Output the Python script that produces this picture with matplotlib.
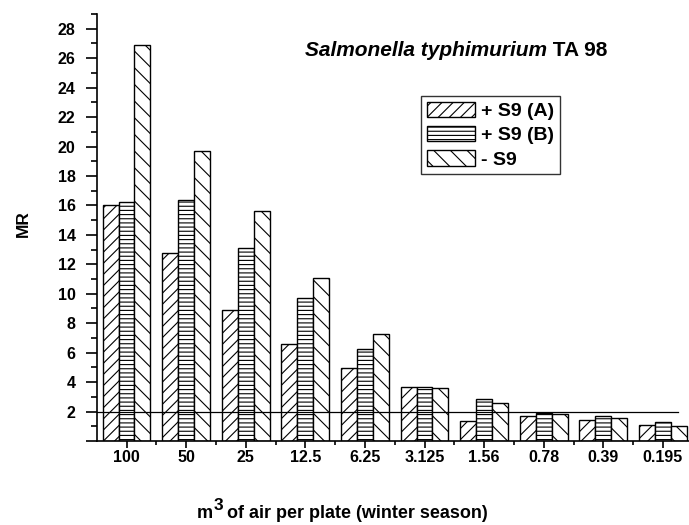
import matplotlib
matplotlib.use("Agg")
import matplotlib.pyplot as plt
from matplotlib.ticker import MultipleLocator
import numpy as np

# --- datos ---
categorias = ["100", "50", "25", "12.5", "6.25", "3.125", "1.56", "0.78", "0.39", "0.195"]
s9_a = [16.0, 12.8, 8.9, 6.6, 4.95, 3.65, 1.38, 1.72, 1.43, 1.11]
s9_b = [16.2, 16.35, 13.1, 9.7, 6.25, 3.68, 2.83, 1.88, 1.68, 1.29]
menos_s9 = [26.9, 19.7, 15.65, 11.05, 7.25, 3.6, 2.56, 1.81, 1.59, 1.02]
etiquetas = ["+ S9 (A)", "+ S9 (B)", "- S9"]
limite_mr = 2

plt.rcParams["font.family"] = ["Liberation Sans", "DejaVu Sans"]
plt.rcParams["font.weight"] = "bold"
plt.rcParams["hatch.linewidth"] = 0.8

fig = plt.figure(figsize=(6.89, 5.25), dpi=100)
ax = fig.add_axes([96.7 / 689, 1 - 441 / 525, 596 / 689, 427 / 525])

x = np.arange(len(categorias))
w = 0.268
series = [s9_a, s9_b, menos_s9]
tramas = ["///", "----", "\\\\"]
for i, (vals, trama, lab) in enumerate(zip(series, tramas, etiquetas)):
    ax.bar(x + (i - 1) * w, vals, w, facecolor="white", edgecolor="black",
           hatch=trama, linewidth=1.0, label=lab, zorder=2)

# línea de referencia MR = 2
ax.axhline(limite_mr, xmin=0, xmax=0.975, color="black", linewidth=0.9, zorder=3)

# ejes
ax.set_xlim(-0.5, len(categorias) - 0.5)
ax.set_ylim(0, 29)
ax.set_xticks(x)
ax.set_xticklabels(categorias)
ax.set_xticks(x[:-1] + 0.5, minor=True)
ax.yaxis.set_minor_locator(MultipleLocator(1))
ax.set_yticks(np.arange(0, 29, 2))
ax.set_yticklabels([""] + [str(v) for v in range(2, 29, 2)])

for s in ["top", "right"]:
    ax.spines[s].set_visible(False)
for s in ["left", "bottom"]:
    ax.spines[s].set_linewidth(1.2)

ax.tick_params(axis="y", which="major", direction="out", length=7.7, width=1.2,
               pad=7.5, labelsize=11.5)
ax.tick_params(axis="y", which="minor", direction="out", length=4, width=1.2)
ax.tick_params(axis="x", which="major", direction="out", length=5, width=1.2,
               pad=1.5, labelsize=11.5)
ax.tick_params(axis="x", which="minor", direction="out", length=3, width=1.2)

# leyenda
leg = fig.legend(loc="upper left", bbox_to_anchor=(421 / 689, 1 - 95.7 / 525),
                 borderaxespad=0, fancybox=False, frameon=True, fontsize=14,
                 handlelength=2.5, handleheight=0.85, handletextpad=0.3,
                 labelspacing=0.3, borderpad=0.3)
leg.get_frame().set_edgecolor("black")
leg.get_frame().set_linewidth(1.0)

# título
t1 = fig.text(305 / 689, 1 - 56 / 525, "Salmonella typhimurium", fontsize=15,
              style="italic", fontweight="bold", va="baseline")
ax.annotate(" TA 98", xy=(1, 0), xycoords=t1, va="bottom", ha="left",
            fontsize=15, fontweight="bold")

# etiquetas de ejes
fig.text(23 / 689, 1 - 224 / 525, "MR", rotation=90, fontsize=12.5,
         fontweight="bold", ha="center", va="center")
tm = fig.text(197 / 689, 1 - 518.5 / 525, "m", fontsize=13, fontweight="bold",
              va="baseline")
ax.annotate("3", xy=(1, 0), xycoords=tm, xytext=(0.5, 7), textcoords="offset points",
            va="bottom", ha="left", fontsize=12.5, fontweight="bold")
ax.annotate(" of air per plate (winter season)", xy=(1, 0), xycoords=tm,
            xytext=(6.5, 0), textcoords="offset points", va="bottom", ha="left",
            fontsize=13, fontweight="bold")

fig.savefig("out.png", dpi=100)
